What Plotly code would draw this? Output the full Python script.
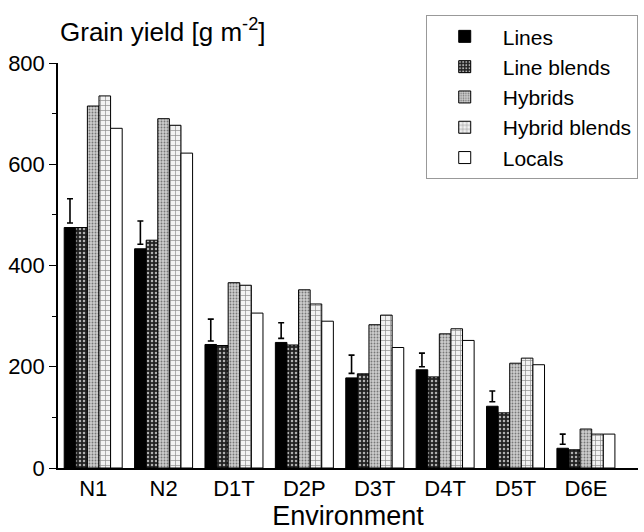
import plotly.graph_objects as go

environments = ["N1", "N2", "D1T", "D2P", "D3T", "D4T", "D5T", "D6E"]
lines = [475, 433, 244, 248, 178, 194, 122, 39]
line_blends = [475, 450, 242, 243, 186, 180, 109, 36]
hybrids = [715, 690, 366, 352, 283, 265, 207, 77]
hybrid_blends = [735, 677, 361, 324, 302, 275, 217, 67]
locals_ = [671, 622, 306, 290, 238, 252, 204, 67]
lsd_low = [484, 442, 251, 256, 187, 200, 131, 47]
lsd_high = [532, 488, 294, 287, 223, 227, 152, 67]
y_ticks = [0, 200, 400, 600, 800]

FONT = "Liberation Sans, Arial, sans-serif"

series = [
    ("Lines", lines, dict(color="black")),
    ("Line blends", line_blends, dict(color="#222222", pattern=dict(shape=".", bgcolor="#222222", fgcolor="#b0b0b0", size=4, solidity=0.3, fillmode="replace"))),
    ("Hybrids", hybrids, dict(color="#c8c8c8", pattern=dict(shape=".", bgcolor="#cdcdcd", fgcolor="#777777", size=3, solidity=0.3, fillmode="replace"))),
    ("Hybrid blends", hybrid_blends, dict(color="#eeeeee", pattern=dict(shape="+", bgcolor="#f2f2f2", fgcolor="#8a8a8a", size=5, solidity=0.25, fillmode="replace"))),
    ("Locals", locals_, dict(color="white")),
]

fig = go.Figure()
for i, (name, vals, mk) in enumerate(series):
    mk = dict(mk)
    mk["line"] = dict(color="black", width=1)
    fig.add_trace(go.Bar(
        x=environments, y=vals, name=name, marker=mk,
        offsetgroup=f"g{i}", legendgroup=f"g{i}",
    ))

mid = [(a + b) / 2 for a, b in zip(lsd_low, lsd_high)]
half = [(b - a) / 2 for a, b in zip(lsd_low, lsd_high)]
fig.add_trace(go.Bar(
    x=environments, y=mid, name="LSD", showlegend=False, hoverinfo="skip",
    offsetgroup="g0",
    marker=dict(color="rgba(0,0,0,0)", line=dict(width=0)),
    error_y=dict(type="data", array=half, symmetric=True, color="black", thickness=1.6, width=3),
))

fig.update_layout(
    width=644, height=532,
    margin=dict(l=58, r=6, t=63, b=64),
    paper_bgcolor="white", plot_bgcolor="white",
    barmode="group", bargap=0.176, bargroupgap=0,
    font=dict(family=FONT, size=21, color="black"),
    legend=dict(
        x=0.634, y=1.118, xanchor="left", yanchor="top",
        bgcolor="white", bordercolor="#999999", borderwidth=1,
        font=dict(size=21), tracegroupgap=0, traceorder="grouped",
        itemwidth=66,
    ),
    xaxis=dict(
        range=[-0.5, 7.74], showline=True, linecolor="black", linewidth=1.5,
        ticks="", showgrid=False, zeroline=False,
        title=dict(text="Environment", font=dict(size=27), standoff=4),
        tickfont=dict(size=22),
    ),
    yaxis=dict(
        range=[0, 800], tickvals=y_ticks, showline=True, linecolor="black", linewidth=1.5,
        ticks="outside", ticklen=7, tickwidth=1.2, tickcolor="black",
        minor=dict(dtick=100, ticks="outside", ticklen=4, tickcolor="black", tickwidth=1.2),
        showgrid=False, zeroline=False, tickfont=dict(size=22),
    ),
    annotations=[dict(
        text="Grain yield [g m<sup>-2</sup>]", xref="paper", yref="paper",
        x=0.0, y=1.081, xanchor="left", yanchor="middle", showarrow=False,
        font=dict(size=26),
    )],
)

fig.write_html("out.html")
